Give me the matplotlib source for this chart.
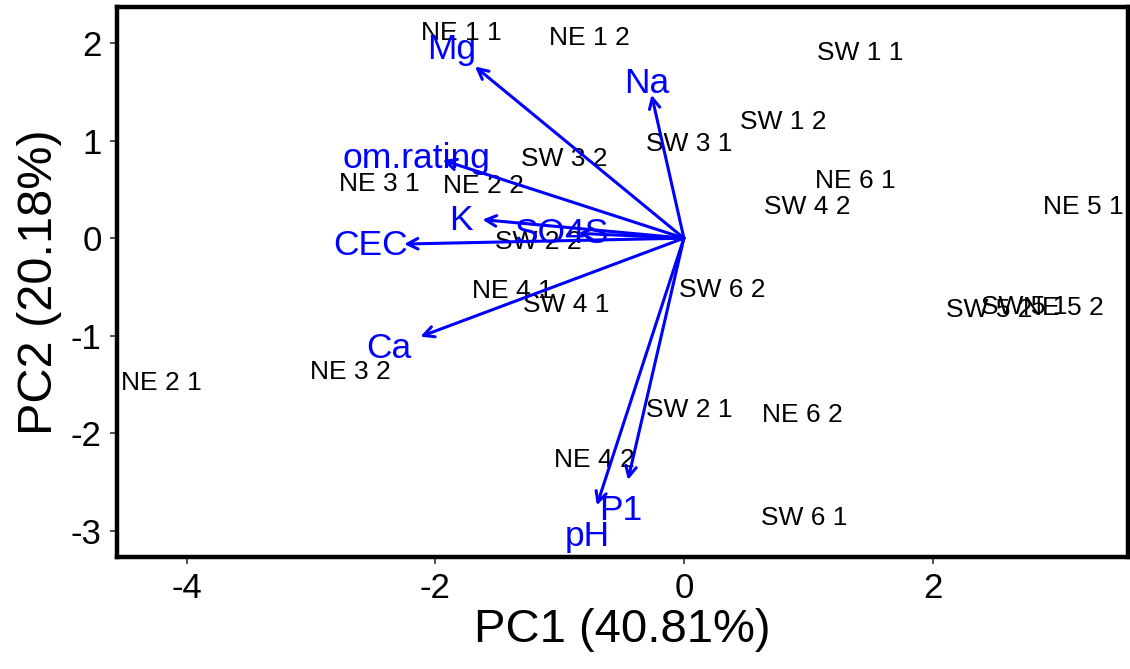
# python 3
# PCA biplot: sample scores + variable loadings

import matplotlib
matplotlib.use("Agg")
import matplotlib.pyplot as plt

plt.rcParams['font.family'] = ['Liberation Sans', 'DejaVu Sans']

# sample scores (PC1, PC2)
sample_names = ["NE 1 1", "NE 1 2", "SW 1 1", "SW 1 2", "SW 3 1", "SW 3 2",
                "NE 3 1", "NE 2 2", "NE 6 1", "SW 4 2", "NE 5 1", "SW 2 2",
                "NE 4 1", "SW 4 1", "SW 6 2", "SW 5 2", "SW 5 1", "NE 5 2",
                "NE 2 1", "NE 3 2", "SW 2 1", "NE 6 2", "NE 4 2", "SW 6 1"]
pc1 = [-1.79, -0.76, 1.42, 0.80, 0.04, -0.96,
       -2.45, -1.61, 1.38, 0.99, 3.21, -1.17,
       -1.38, -0.95, 0.31, 2.46, 2.74, 3.05,
       -4.20, -2.68, 0.04, 0.95, -0.72, 0.97]
pc2 = [2.10, 2.05, 1.90, 1.19, 0.97, 0.81,
       0.56, 0.53, 0.59, 0.32, 0.32, -0.04,
       -0.54, -0.69, -0.53, -0.74, -0.71, -0.72,
       -1.49, -1.37, -1.76, -1.81, -2.27, -2.87]

# variable loadings (arrow tips) and label positions
var_names = ["Mg", "Na", "om.rating", "K", "SO4S", "CEC", "Ca", "pH", "P1"]
load_x = [-1.68, -0.26, -1.94, -1.62, -0.85, -2.25, -2.12, -0.70, -0.45]
load_y = [1.76, 1.47, 0.80, 0.19, 0.05, -0.06, -1.01, -2.74, -2.48]
lab_x = [-1.87, -0.30, -2.15, -1.79, -0.98, -2.52, -2.37, -0.78, -0.51]
lab_y = [1.93, 1.59, 0.82, 0.18, 0.05, -0.08, -1.13, -3.06, -2.79]

fig = plt.figure(figsize=(11.3, 6.69), dpi=100)
ax = fig.add_axes([0.1035, 0.1674, 0.8945, 0.822])

for name, x, y in zip(sample_names, pc1, pc2):
    ax.text(x, y, name, ha='center', va='center', fontsize=19, color='black')

for name, x, y, lx, ly in zip(var_names, load_x, load_y, lab_x, lab_y):
    ax.annotate("", xy=(x, y), xytext=(0, 0),
                arrowprops=dict(arrowstyle='->,head_length=0.75,head_width=0.38',
                                color='#0000ff', lw=2.2, shrinkA=0, shrinkB=0))
    ax.text(lx, ly, name, ha='center', va='center', fontsize=25.5, color='#0000ff')

ax.set_xlim(-4.56, 3.57)
ax.set_ylim(-3.27, 2.37)
ax.set_xticks([-4, -2, 0, 2])
ax.set_yticks([-3, -2, -1, 0, 1, 2])
ax.set_xticklabels(["-4", "-2", "0", "2"])
ax.set_yticklabels(["-3", "-2", "-1", "0", "1", "2"])
ax.tick_params(labelsize=25, length=5, width=1.2, color='#333333', pad=6)

for s in ax.spines.values():
    s.set_linewidth(3.2)

ax.set_xlabel("PC1 (40.81%)", fontsize=34, labelpad=2)
ax.set_ylabel("PC2 (20.18%)", fontsize=35, labelpad=6)

fig.savefig("out.png", dpi=100)
